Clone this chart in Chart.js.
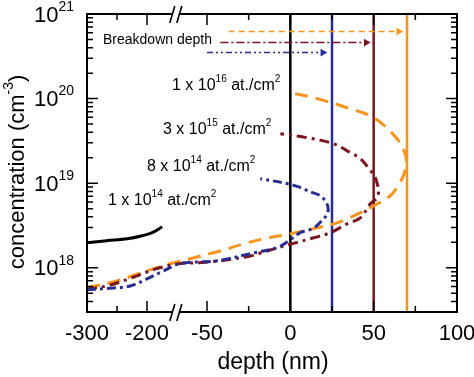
<!DOCTYPE html>
<html>
<head>
<meta charset="utf-8">
<script src="https://cdn.jsdelivr.net/npm/chart.js@4.4.0/dist/chart.umd.min.js"></script>
<style>
    body { margin: 0; background: #fff; }
</style>
</head>
<body>
<canvas id="chart" width="474" height="377"></canvas>
<script>
// depth (nm) and concentration (cm^-3)
const dose1e16Depth = [-300, -250, -210, -160, -92, -42, -28, -16, -1, 14, 28, 38, 50, 60, 64.6, 68, 69.5, 69, 64, 50, 34, 16, 0];
const dose1e16Conc = [5.8e17, 7.0e17, 8.7e17, 1.06e18, 1.28e18, 1.58e18, 1.92e18, 2.2e18, 2.5e18, 2.9e18, 3.4e18, 4.1e18, 5.4e18, 7.1e18, 9.3e18, 1.25e19, 1.7e19, 2.2e19, 3.36e19, 5.96e19, 7.8e19, 1.0e20, 1.18e20];

const dose3e15Depth = [-300, -267, -228, -175, -117, -70, -42, -24, -14, 0, 14, 24, 34, 42, 48, 52, 53, 52.7, 51, 47, 42, 36, 25.6, 10, -6];
const dose3e15Conc = [5.6e17, 6.1e17, 7.5e17, 9.8e17, 1.12e18, 1.15e18, 1.21e18, 1.38e18, 1.58e18, 1.9e18, 2.26e18, 2.6e18, 3.3e18, 3.9e18, 5.7e18, 6.7e18, 8.0e18, 8.9e18, 1.16e19, 1.5e19, 1.95e19, 2.3e19, 2.94e19, 3.45e19, 3.85e19];

const dose8e14Depth = [-300, -267, -228, -200, -160, -117, -44, -24, -8, 0, 6, 14, 20, 22.5, 22, 18, 12, 6, -2, -18];
const dose8e14Conc = [5.5e17, 5.7e17, 6.1e17, 7.4e17, 9.1e17, 1.12e18, 1.21e18, 1.47e18, 1.73e18, 2.15e18, 2.6e18, 2.95e18, 3.8e18, 4.5e18, 5.7e18, 7.1e18, 7.9e18, 8.9e18, 9.9e18, 1.13e19];

const dose1e14Depth = [-300, -267, -233, -208, -187, -162];
const dose1e14Conc = [1.98e18, 2.09e18, 2.2e18, 2.39e18, 2.6e18, 3.05e18];

// breakdown depth lines and arrows: orange, dark red, blue
const surfaceDepth = 0;
const breakdownDepths = [70, 50, 25];
const arrowStart = [-37, -42, -50];
const arrowEnd = [65, 45.5, 19.5];
const arrowLevel = [6.2e20, 4.6e20, 3.5e20];

const xMajorTicks = [-300, -200, -50, 0, 50, 100];
const xMinorTicks = [-250, -25, 25, 75];
const yDecades = [18, 19, 20, 21];

const ORANGE = 'rgb(247,148,30)';
const MAROON = 'rgb(122,22,30)';
const BLUE = 'rgb(40,45,145)';
const FONT = '"Liberation Sans", Arial, sans-serif';
const yMin = 3e17, yMax = 1e21;

// broken depth axis: -300..-200 compressed, gap, -50..100 stretched
function brk(d) {
    if (d <= -200) return (d + 300) * 0.6;
    if (d >= -50) return 120 + (d + 50) * 250 / 150;
    return 60 + (d + 200) * 0.4;
}

function pts(depths, concs) {
    return depths.map((d, i) => ({ x: brk(d), y: concs[i] }));
}

function vline(d) {
    return [{ x: brk(d), y: yMin }, { x: brk(d), y: yMax }];
}

function curve(data, color, dash) {
    return { data: data, borderColor: color, borderWidth: 3, borderDash: dash, tension: 0.35, pointRadius: 0, fill: false };
}

function arrow(i, color, dash) {
    return {
        data: [{ x: brk(arrowStart[i]), y: arrowLevel[i] }, { x: brk(arrowEnd[i]), y: arrowLevel[i] }],
        borderColor: color, borderWidth: 1.5, borderDash: dash,
        pointRadius: [0, 4.5], pointStyle: 'triangle', pointRotation: 90,
        pointBackgroundColor: color, pointBorderColor: color, pointBorderWidth: 0
    };
}

function drawParts(ctx, x, y, parts, size, supSize) {
    ctx.textAlign = 'left';
    ctx.textBaseline = 'middle';
    parts.forEach(p => {
        let sup = p.startsWith('^');
        let t = sup ? p.slice(1) : p;
        ctx.font = (sup ? supSize : size) + 'px ' + FONT;
        ctx.fillText(t, x, sup ? y - size * 0.4 : y);
        x += ctx.measureText(t).width;
    });
}

const framePlugin = {
    id: 'frame',
    beforeDraw(chart) {
        const ctx = chart.ctx;
        ctx.save();
        ctx.fillStyle = '#fff';
        ctx.fillRect(0, 0, chart.width, chart.height);
        ctx.restore();
    },
    afterDatasetsDraw(chart) {
        const ctx = chart.ctx, a = chart.chartArea, xs = chart.scales.x, ys = chart.scales.y;
        ctx.save();
        ctx.strokeStyle = '#000';
        ctx.fillStyle = '#000';
        ctx.lineWidth = 2;
        ctx.strokeRect(a.left, a.top, a.right - a.left, a.bottom - a.top);

        // y ticks, both sides, pointing inwards
        ctx.lineWidth = 1.5;
        ctx.beginPath();
        for (let e = 17; e <= 20; e++) {
            for (let m = 1; m <= 10; m++) {
                let v = m * Math.pow(10, e);
                if (v < yMin || v > yMax) continue;
                let py = ys.getPixelForValue(v);
                let len = (m === 1 || m === 10) ? 11 : 6;
                ctx.moveTo(a.left, py); ctx.lineTo(a.left + len, py);
                ctx.moveTo(a.right, py); ctx.lineTo(a.right - len, py);
            }
        }
        // x ticks, top and bottom
        xMajorTicks.concat(xMinorTicks).forEach(v => {
            let px = xs.getPixelForValue(brk(v));
            let len = xMajorTicks.includes(v) ? 11 : 6;
            ctx.moveTo(px, a.bottom); ctx.lineTo(px, a.bottom - len);
            ctx.moveTo(px, a.top); ctx.lineTo(px, a.top + len);
        });
        ctx.stroke();

        // axis break marks
        let bx = xs.getPixelForValue(brk(-128));
        [a.top, a.bottom].forEach(y => {
            ctx.fillStyle = '#fff';
            ctx.fillRect(bx - 3, y - 2, 6, 4);
            ctx.beginPath();
            ctx.lineWidth = 1.6;
            ctx.moveTo(bx - 6, y + 9); ctx.lineTo(bx - 1, y - 8);
            ctx.moveTo(bx + 1, y + 9); ctx.lineTo(bx + 6, y - 8);
            ctx.stroke();
        });

        // tick labels
        ctx.fillStyle = '#000';
        ctx.font = '22px ' + FONT;
        ctx.textAlign = 'center';
        ctx.textBaseline = 'middle';
        xMajorTicks.forEach(v => {
            ctx.fillText(String(v), xs.getPixelForValue(brk(v)), a.bottom + 22);
        });
        yDecades.forEach(e => {
            let py = ys.getPixelForValue(Math.pow(10, e));
            ctx.font = '14px ' + FONT;
            let w2 = ctx.measureText(String(e)).width;
            let right = 74;
            ctx.textAlign = 'left';
            ctx.fillText(String(e), right - w2, py - 7);
            ctx.font = '22px ' + FONT;
            ctx.textAlign = 'right';
            ctx.fillText('10', right - w2, py + 1.5);
        });

        // axis titles
        ctx.font = '23px ' + FONT;
        ctx.textAlign = 'center';
        ctx.fillText('depth (nm)', (a.left + a.right) / 2 + 1, 363);

        ctx.save();
        ctx.translate(18, 172);
        ctx.rotate(-Math.PI / 2);
        ctx.font = '22px ' + FONT;
        let t1 = 'concentration (cm', w1 = ctx.measureText(t1).width, w3 = ctx.measureText(')').width;
        ctx.font = '14px ' + FONT;
        let ws = ctx.measureText('-3').width;
        let x0 = -(w1 + ws + w3) / 2;
        drawParts(ctx, x0, 0, [t1, '^-3', ')'], 22, 14);
        ctx.restore();

        // annotations
        ctx.font = '14px ' + FONT;
        ctx.textAlign = 'left';
        ctx.fillText('Breakdown depth', 103, 40);
        drawParts(ctx, 172, 86, ['1 x 10', '^16', ' at./cm', '^2'], 16, 10);
        drawParts(ctx, 163, 130, ['3 x 10', '^15', ' at./cm', '^2'], 16, 10);
        drawParts(ctx, 147, 167, ['8 x 10', '^14', ' at./cm', '^2'], 16, 10);
        drawParts(ctx, 108, 201, ['1 x 10', '^14', ' at./cm', '^2'], 16, 10);
        ctx.restore();
    }
};

const ctxChart = document.getElementById('chart');
new Chart(ctxChart, {
    type: 'line',
    data: {
        datasets: [
            curve(pts(dose1e14Depth, dose1e14Conc), '#000', []),
            curve(pts(dose8e14Depth, dose8e14Conc), BLUE, [9, 4, 3, 4]),
            curve(pts(dose3e15Depth, dose3e15Conc), MAROON, [10, 5, 3, 5]),
            curve(pts(dose1e16Depth, dose1e16Conc), ORANGE, [13, 8]),
            arrow(0, ORANGE, [6, 4]),
            arrow(1, MAROON, [8, 3, 2, 3]),
            arrow(2, BLUE, [6, 3, 2, 3, 2, 3]),
            { data: vline(surfaceDepth), borderColor: '#000', borderWidth: 2.5, pointRadius: 0 },
            { data: vline(breakdownDepths[0]), borderColor: ORANGE, borderWidth: 2.5, pointRadius: 0 },
            { data: vline(breakdownDepths[1]), borderColor: MAROON, borderWidth: 2.5, pointRadius: 0 },
            { data: vline(breakdownDepths[2]), borderColor: BLUE, borderWidth: 2.5, pointRadius: 0 }
        ]
    },
    options: {
        responsive: false,
        animation: false,
        layout: { padding: { left: 87, right: 17, top: 14, bottom: 65 } },
        plugins: { legend: { display: false }, tooltip: { enabled: false } },
        scales: {
            x: { type: 'linear', min: 0, max: 370, display: false },
            y: { type: 'logarithmic', min: yMin, max: yMax, display: false }
        }
    },
    plugins: [framePlugin]
});
</script>
</body>
</html>
